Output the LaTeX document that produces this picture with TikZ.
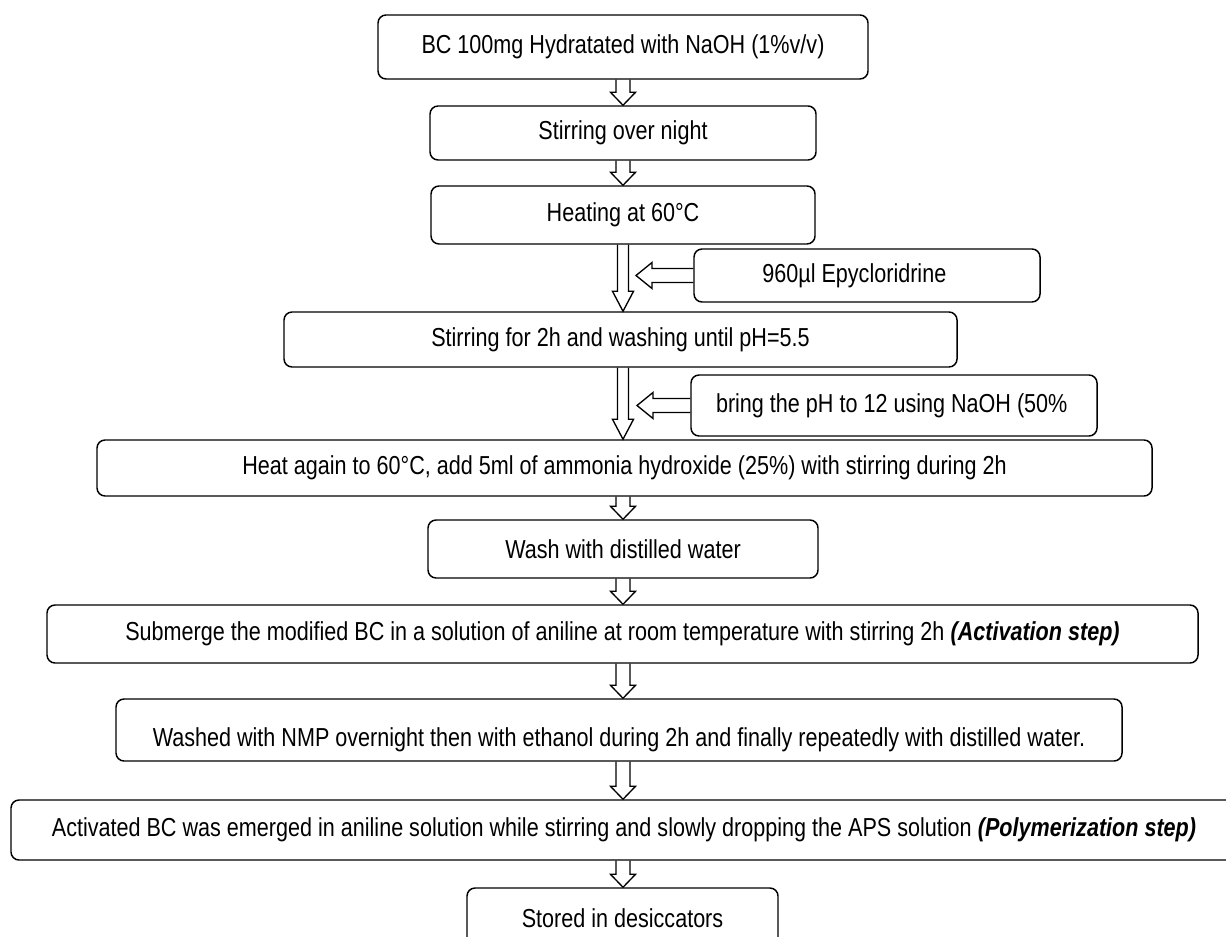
\documentclass[tikz,border=0pt]{standalone}
\usepackage{fontspec}
\setmainfont{Liberation Sans}[FakeStretch=0.83]
\usetikzlibrary{calc}
\tikzset{
    stepbox/.style={
        draw,line width=1.1pt,rounded corners=6pt,inner sep=0pt,
        align=center,font=\fontsize{19.5}{23}\selectfont
    },
    boxsize/.style 2 args={minimum width=#1*0.75pt,minimum height=#2*0.75pt},
    blockarrow/.style n args={3}{
        line width=1pt,
        to path={
            let \p1=(\tikztostart),\p2=(\tikztotarget),
            \n1={atan2(\y2-\y1,\x2-\x1)} in
            ($(\p1)+(\n1+90:#1)$)
            -- ($(\p2)+(\n1+180:#3)+(\n1+90:#1)$)
            -- ($(\p2)+(\n1+180:#3)+(\n1+90:#2)$)
            -- (\p2)
            -- ($(\p2)+(\n1+180:#3)+(\n1-90:#2)$)
            -- ($(\p2)+(\n1+180:#3)+(\n1-90:#1)$)
            -- ($(\p1)+(\n1-90:#1)$)
        }
    },
    flow/.style={blockarrow={5.25pt}{9.4pt}{9.75pt}},
    feed/.style={blockarrow={4.1pt}{7.9pt}{15pt}},
    addarrow/.style={blockarrow={5.25pt}{9.75pt}{12pt}}
}

\begin{document}
\begin{tikzpicture}[x=0.75pt,y=-0.75pt]

\useasboundingbox (0,0) rectangle (1226,937);

% main steps
\node[stepbox,boxsize={490}{64}] (hydrate) at (623,47)
{BC 100mg Hydratated with NaOH (1\%v/v)};
\node[stepbox,boxsize={386}{54}] (stirnight) at (623,133)
{Stirring over night};
\node[stepbox,boxsize={384}{58}] (heat) at (623,215)
{Heating at 60°C};
\node[stepbox,boxsize={673}{55}] (wash) at (620.5,339.5)
{Stirring for 2h and washing until pH=5.5};
\node[stepbox,boxsize={1055}{56}] (ammonia) at (624.5,468)
{Heat again to 60°C, add 5ml of ammonia hydroxide (25\%) with stirring during 2h};
\node[stepbox,boxsize={390}{58}] (water) at (623,549)
{Wash with distilled water};
\node[stepbox,boxsize={1151}{58}] (activ) at (622.5,634)
{Submerge the modified BC in a solution of aniline at room temperature with stirring 2h \textbf{\textit{(Activation step)}}};
\node[stepbox,boxsize={1006}{62}] (nmp) at (619,730)
{\raisebox{-7pt}[\height][\depth]{Washed with NMP overnight then with ethanol during 2h and finally repeatedly with distilled water.}};
\node[stepbox,boxsize={1226}{60}] (polym) at (624,830)
{Activated BC was emerged in aniline solution while stirring and slowly dropping the APS solution \textbf{\textit{(Polymerization step)}}};
\node[stepbox,boxsize={311}{60}] (store) at (622.5,918)
{Stored in desiccators};

% added reagents
\node[stepbox,boxsize={346}{53}] (epi) at (867,275.5)
{960µl Epycloridrine\hspace*{19pt}};
\node[stepbox,boxsize={406}{61}] (ph) at (894,405.5)
{\makebox[267pt][l]{bring the pH to 12 using NaOH (50\%}};

\coordinate (col) at (623,0);
\coordinate (in1) at (636,0);
\coordinate (in2) at (637,0);

\draw[flow] (hydrate.south -| col) to (stirnight.north -| col);
\draw[flow] (stirnight.south -| col) to (heat.north -| col);
\draw[feed] (heat.south -| col) to (wash.north -| col);
\draw[feed] (wash.south -| col) to (ammonia.north -| col);
\draw[flow] (ammonia.south -| col) to (water.north -| col);
\draw[flow] (water.south -| col) to (activ.north -| col);
\draw[flow] (activ.south -| col) to (nmp.north -| col);
\draw[flow] (nmp.south -| col) to (polym.north -| col);
\draw[flow] (polym.south -| col) to (store.north -| col);

\draw[addarrow] (epi.west) to (epi.west -| in1);
\draw[addarrow] (ph.west) to (ph.west -| in2);

\end{tikzpicture}
\end{document}
